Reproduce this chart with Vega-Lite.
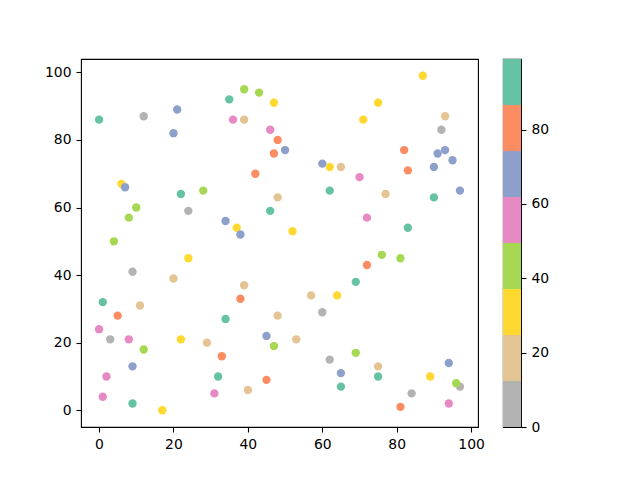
{
  "$schema": "https://vega.github.io/schema/vega-lite/v6.json",
  "background": "white",
  "padding": {"left": 43, "top": 58, "right": 5, "bottom": 5},
  "bounds": "flush",
  "spacing": 25,
  "config": {
    "view": {"stroke": "black", "strokeWidth": 1.1},
    "axis": {
      "grid": false,
      "domain": false,
      "title": null,
      "labelFont": "DejaVu Sans",
      "labelFontSize": 13.9,
      "labelColor": "black",
      "tickColor": "black",
      "tickSize": 5,
      "tickWidth": 1.1,
      "labelPadding": 5
    }
  },
  "hconcat": [
    {
      "width": 397,
      "height": 368,
      "data": {
        "values": [
          {"x": 12, "y": 87, "c": 4}, {"x": 24, "y": 59, "c": 7}, {"x": 9, "y": 41, "c": 2},
          {"x": 3, "y": 21, "c": 9}, {"x": 60, "y": 29, "c": 5}, {"x": 62, "y": 15, "c": 11},
          {"x": 92, "y": 83, "c": 0}, {"x": 97, "y": 7, "c": 6}, {"x": 84, "y": 5, "c": 8},

          {"x": 39, "y": 86, "c": 18}, {"x": 48, "y": 63, "c": 14}, {"x": 20, "y": 39, "c": 20},
          {"x": 39, "y": 37, "c": 16}, {"x": 11, "y": 31, "c": 22}, {"x": 48, "y": 28, "c": 19},
          {"x": 29, "y": 20, "c": 15}, {"x": 40, "y": 6, "c": 23}, {"x": 93, "y": 87, "c": 17},
          {"x": 65, "y": 72, "c": 21}, {"x": 77, "y": 64, "c": 13}, {"x": 57, "y": 34, "c": 18},
          {"x": 53, "y": 21, "c": 24}, {"x": 75, "y": 13, "c": 16},

          {"x": 47, "y": 91, "c": 30}, {"x": 6, "y": 67, "c": 27}, {"x": 37, "y": 54, "c": 33},
          {"x": 87, "y": 99, "c": 29}, {"x": 75, "y": 91, "c": 35}, {"x": 71, "y": 86, "c": 31},
          {"x": 62, "y": 72, "c": 26}, {"x": 52, "y": 53, "c": 32}, {"x": 24, "y": 45, "c": 28},
          {"x": 22, "y": 21, "c": 34}, {"x": 17, "y": 0, "c": 30}, {"x": 64, "y": 34, "c": 36},
          {"x": 89, "y": 10, "c": 27},

          {"x": 39, "y": 95, "c": 43}, {"x": 43, "y": 94, "c": 40}, {"x": 28, "y": 65, "c": 45},
          {"x": 10, "y": 60, "c": 39}, {"x": 8, "y": 57, "c": 47}, {"x": 4, "y": 50, "c": 42},
          {"x": 12, "y": 18, "c": 44}, {"x": 47, "y": 19, "c": 38}, {"x": 76, "y": 46, "c": 46},
          {"x": 81, "y": 45, "c": 41}, {"x": 69, "y": 17, "c": 48}, {"x": 96, "y": 8, "c": 43},

          {"x": 36, "y": 86, "c": 55}, {"x": 46, "y": 83, "c": 52}, {"x": 70, "y": 69, "c": 58},
          {"x": 72, "y": 57, "c": 51}, {"x": 0, "y": 24, "c": 56}, {"x": 8, "y": 21, "c": 60},
          {"x": 2, "y": 10, "c": 53}, {"x": 31, "y": 5, "c": 57}, {"x": 1, "y": 4, "c": 54},
          {"x": 94, "y": 2, "c": 59},

          {"x": 21, "y": 89, "c": 68}, {"x": 20, "y": 82, "c": 65}, {"x": 50, "y": 77, "c": 70},
          {"x": 7, "y": 66, "c": 63}, {"x": 34, "y": 56, "c": 72}, {"x": 38, "y": 52, "c": 66},
          {"x": 93, "y": 77, "c": 69}, {"x": 91, "y": 76, "c": 64}, {"x": 95, "y": 74, "c": 71},
          {"x": 90, "y": 72, "c": 67}, {"x": 60, "y": 73, "c": 73}, {"x": 97, "y": 65, "c": 62},
          {"x": 45, "y": 22, "c": 68}, {"x": 9, "y": 13, "c": 66}, {"x": 65, "y": 11, "c": 70},
          {"x": 94, "y": 14, "c": 64},

          {"x": 48, "y": 80, "c": 80}, {"x": 47, "y": 76, "c": 77}, {"x": 42, "y": 70, "c": 83},
          {"x": 82, "y": 77, "c": 79}, {"x": 83, "y": 71, "c": 76}, {"x": 38, "y": 33, "c": 81},
          {"x": 5, "y": 28, "c": 85}, {"x": 33, "y": 16, "c": 78}, {"x": 45, "y": 9, "c": 82},
          {"x": 72, "y": 43, "c": 75}, {"x": 81, "y": 1, "c": 84},

          {"x": 0, "y": 86, "c": 93}, {"x": 35, "y": 92, "c": 90}, {"x": 22, "y": 64, "c": 96},
          {"x": 46, "y": 59, "c": 88}, {"x": 62, "y": 65, "c": 94}, {"x": 90, "y": 63, "c": 91},
          {"x": 83, "y": 54, "c": 99}, {"x": 1, "y": 32, "c": 89}, {"x": 34, "y": 27, "c": 95},
          {"x": 32, "y": 10, "c": 92}, {"x": 69, "y": 38, "c": 97}, {"x": 75, "y": 10, "c": 87},
          {"x": 65, "y": 7, "c": 93}, {"x": 9, "y": 2, "c": 90}
        ]
      },
      "mark": {"type": "circle", "size": 70, "opacity": 1},
      "encoding": {
        "x": {
          "field": "x",
          "type": "quantitative",
          "scale": {"domain": [-4.85, 101.85], "nice": false, "zero": false},
          "axis": {"values": [0, 20, 40, 60, 80, 100]}
        },
        "y": {
          "field": "y",
          "type": "quantitative",
          "scale": {"domain": [-4.95, 103.95], "nice": false, "zero": false},
          "axis": {"values": [0, 20, 40, 60, 80, 100]}
        },
        "color": {
          "field": "c",
          "type": "quantitative",
          "scale": {
            "type": "quantize",
            "domain": [0, 99],
            "range": ["#b3b3b3", "#e5c494", "#ffd92f", "#a6d854", "#e78ac3", "#8da0cb", "#fc8d62", "#66c2a5"]
          },
          "legend": null
        }
      }
    },
    {
      "width": 18,
      "height": 368,
      "data": {
        "values": [
          {"lo": 0, "hi": 12.375, "mid": 6},
          {"lo": 12.375, "hi": 24.75, "mid": 18},
          {"lo": 24.75, "hi": 37.125, "mid": 31},
          {"lo": 37.125, "hi": 49.5, "mid": 43},
          {"lo": 49.5, "hi": 61.875, "mid": 55},
          {"lo": 61.875, "hi": 74.25, "mid": 68},
          {"lo": 74.25, "hi": 86.625, "mid": 80},
          {"lo": 86.625, "hi": 99, "mid": 93}
        ]
      },
      "mark": {"type": "rect"},
      "encoding": {
        "y": {
          "field": "lo",
          "type": "quantitative",
          "scale": {"domain": [0, 99], "nice": false, "zero": false},
          "axis": {"orient": "right", "values": [0, 20, 40, 60, 80]}
        },
        "y2": {"field": "hi"},
        "color": {
          "field": "mid",
          "type": "quantitative",
          "scale": {
            "type": "quantize",
            "domain": [0, 99],
            "range": ["#b3b3b3", "#e5c494", "#ffd92f", "#a6d854", "#e78ac3", "#8da0cb", "#fc8d62", "#66c2a5"]
          },
          "legend": null
        }
      }
    }
  ]
}
